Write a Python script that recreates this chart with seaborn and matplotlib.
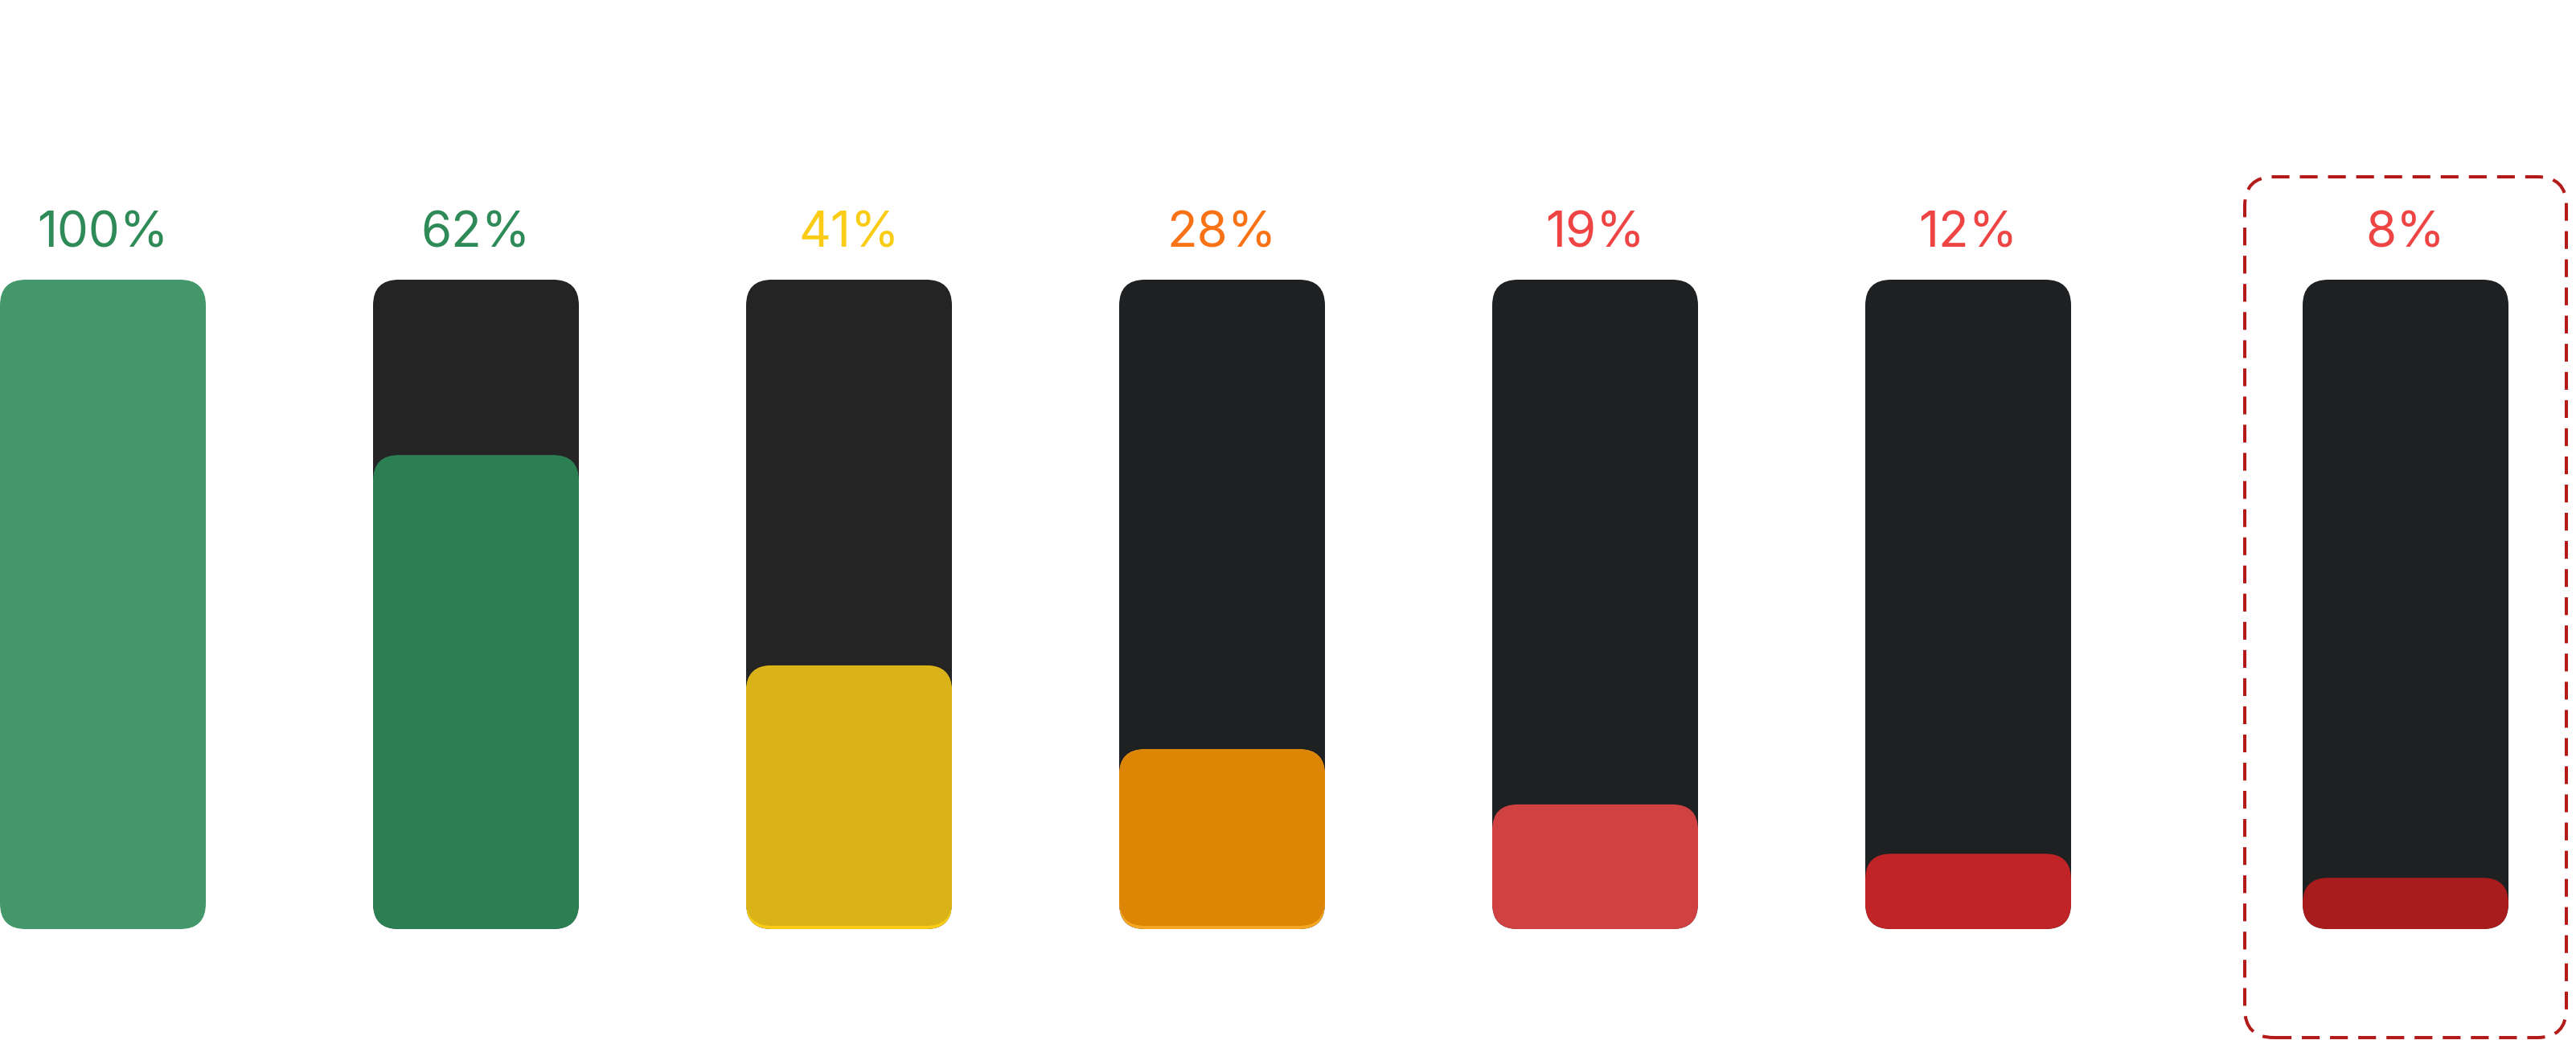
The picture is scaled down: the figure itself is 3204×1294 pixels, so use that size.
import numpy as np
import pandas as pd
import seaborn as sns
import matplotlib.pyplot as plt
from matplotlib.patches import FancyBboxPatch

# ---------- data ----------
labels     = ['100%', '62%', '41%', '28%', '19%', '12%', '8%']
fill_level = [1.00, 0.73, 0.406, 0.277, 0.192, 0.116, 0.079]   # filled share of each bar
highlight  = [False, False, False, False, False, False, True]

fill_colors  = ['#44976A', '#2C7F52', '#D9B318', '#DD8606', '#D04142', '#C02427', '#A81C1E']
rim_colors   = [None, None, '#FACC15', '#F5A623', None, None, None]
track_colors = ['#232323', '#242424', '#242424', '#1F2022', '#1F2022', '#1F2022', '#1F2022']
label_colors = ['#2E8B57', '#2E8B57', '#FACC15', '#F97316', '#EF4444', '#EF4444', '#EF4444']

# ---------- layout (px) ----------
W, H = 3204, 1294
PITCH, BAR_W, FIRST_X = 464, 256, 128
SHIFT_HL = 80            # extra gap before the highlighted bar
BAR_PX = 808             # height of a full bar
BOTTOM_PX = 138          # bar bottom above the image bottom
RADIUS = 32

sns.set_theme(style='white')
plt.rcParams['font.family'] = ['Inter', 'DejaVu Sans']

pos = [FIRST_X + i * PITCH + (SHIFT_HL if hl else 0) for i, hl in enumerate(highlight)]
df = pd.DataFrame({'pos': pos, 'level': fill_level, 'track': 1.0})

fig = plt.figure(figsize=(W / 100, H / 100), dpi=100)
ax = fig.add_axes([0, 0, 1, 1])

sns.barplot(data=df, x='pos', y='track', native_scale=True, width=BAR_W / PITCH,
            color='#222222', errorbar=None, ax=ax)
sns.barplot(data=df, x='pos', y='level', native_scale=True, width=BAR_W / PITCH,
            color='#44976A', errorbar=None, ax=ax)

ylo = -BOTTOM_PX / BAR_PX
yhi = (H - BOTTOM_PX) / BAR_PX
ax.set_xlim(0, W)
ax.set_ylim(ylo, yhi)
ax.set_axis_off()

asp = ((yhi - ylo) / H) / (W / W)   # data-y per px vs data-x per px
px = (yhi - ylo) / H                 # one px in y units


def rounded(x0, y0, w, h, fc, r=RADIUS, **kw):
    r = min(r, h / asp / 2)
    p = FancyBboxPatch((x0, y0), w, h, boxstyle=f'round,pad=0,rounding_size={r}',
                       mutation_aspect=asp, fc=fc, ec='none', **kw)
    ax.add_patch(p)
    return p


n = len(labels)
rects = list(ax.patches)
tracks, fills = rects[:n], rects[n:2 * n]
for p in rects:
    p.remove()

for i in range(n):
    t, f = tracks[i], fills[i]
    if fill_level[i] < 1:
        rounded(t.get_x(), t.get_y(), t.get_width(), t.get_height(), track_colors[i])
    x0, y0, w, h = f.get_x(), f.get_y(), f.get_width(), f.get_height()
    if rim_colors[i]:
        rounded(x0, y0, w, h, rim_colors[i])
        rounded(x0, y0 + 4 * px, w, h - 4 * px, fill_colors[i])
    else:
        rounded(x0, y0, w, h, fill_colors[i])

    ax.annotate(labels[i], xy=(t.get_x() + t.get_width() / 2, t.get_height()),
                xytext=(0, 40 * 0.72), textcoords='offset points',
                ha='center', va='baseline', fontsize=44.5, color=label_colors[i])

    if highlight[i]:
        pad_x, pad_top, pad_bot = 72, 128, 135
        box = FancyBboxPatch((t.get_x() - pad_x, t.get_y() - pad_bot * px),
                             t.get_width() + 2 * pad_x, t.get_height() + (pad_top + pad_bot) * px,
                             boxstyle='round,pad=0,rounding_size=36', mutation_aspect=asp,
                             fc='none', ec='#B31B1B', lw=2.9, ls=(0, (5.5, 3.2)))
        ax.add_patch(box)

fig.savefig('out.png', dpi=100, facecolor='white')
